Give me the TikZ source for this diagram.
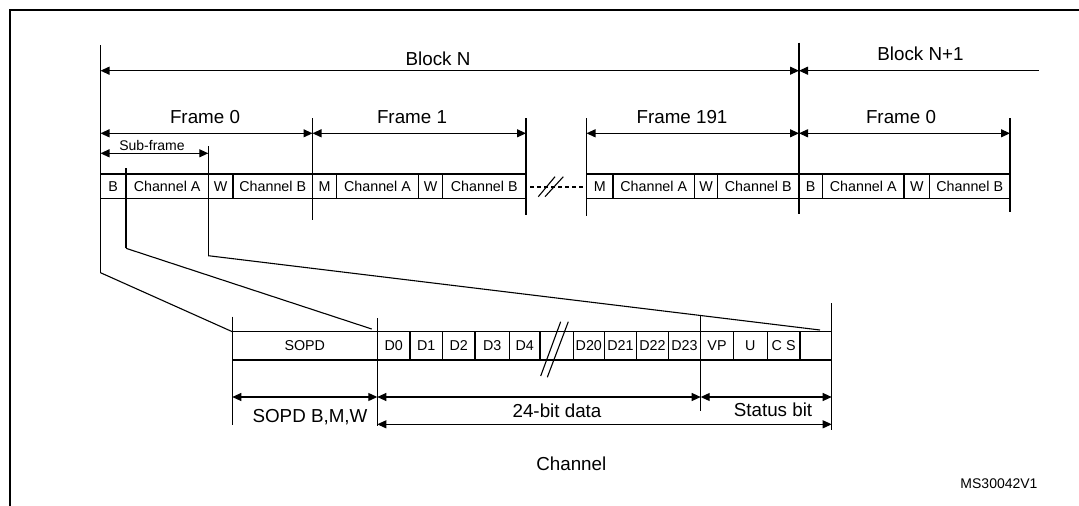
\documentclass[tikz,border=0pt]{standalone}
\usepackage{fontspec}
\setmainfont{Liberation Sans}
\usetikzlibrary{arrows.meta}
\tikzset{
  ln/.style={line width=1.1pt},
  border/.style={line width=2pt},
  dimarrow/.style={line width=1.1pt,{Triangle[length=9pt,width=8pt]}-{Triangle[length=9pt,width=8pt]}},
  leftarrow/.style={line width=1.1pt,{Triangle[length=9pt,width=8pt]}-},
  cellup/.style={draw,line width=1.1pt,inner sep=0pt,outer sep=0pt,minimum height=24.5pt,font=\fontsize{14.3}{16}\selectfont},
  celllow/.style={draw,line width=1.1pt,inner sep=0pt,outer sep=0pt,minimum height=28.3pt,font=\fontsize{14.3}{16}\selectfont},
  gapcell/.style={inner sep=0pt,outer sep=0pt,minimum height=28.3pt},
  biglabel/.style={inner sep=0pt,font=\fontsize{18.8}{21}\selectfont},
  smalllabel/.style={inner sep=0pt,font=\fontsize{14}{15}\selectfont},
}
\newcommand\mycell[6]{%
  \pgfmathsetmacro\mycw{#4-#3}%
  \node[#1,minimum width=\mycw pt,anchor=north west] (#2) at (#3,#5) {#6};}
\begin{document}
\begin{tikzpicture}[x=1pt,y=-1pt]
\useasboundingbox (0,0) rectangle (1079,506);
% outer frame (top and left edges)
\coordinate (fbl) at (9.6,507);
\coordinate (ftl) at (9.6,10);
\coordinate (ftr) at (1080,10);
\draw[border] (fbl) -- (ftl) -- (ftr);

% ---------- upper row of cells ----------
\mycell{cellup}{fAB}{100.5}{126}{174}{B}
\mycell{cellup}{fAA}{126}{208.3}{174}{Channel A}
\mycell{cellup}{fAW}{208.3}{233}{174}{W}
\mycell{cellup}{fAC}{233}{312.5}{174}{Channel B}
\mycell{cellup}{fBM}{312.5}{336.5}{174}{M}
\mycell{cellup}{fBA}{336.5}{418.5}{174}{Channel A}
\mycell{cellup}{fBW}{418.5}{442.5}{174}{W}
\mycell{cellup}{fBC}{442.5}{526}{174}{Channel B}
\mycell{cellup}{fNM}{586.5}{613}{174}{M}
\mycell{cellup}{fNA}{613}{694.5}{174}{Channel A}
\mycell{cellup}{fNW}{694.5}{717.5}{174}{W}
\mycell{cellup}{fNC}{717.5}{799}{174}{Channel B}
\mycell{cellup}{gAB}{799}{822.5}{174}{B}
\mycell{cellup}{gAA}{822.5}{904}{174}{Channel A}
\mycell{cellup}{gAW}{904}{929.5}{174}{W}
\mycell{cellup}{gAC}{929.5}{1010}{174}{Channel B}

% dashed break between frame 1 and frame 191
\coordinate (dshA) at (530,187);
\coordinate (dshB) at (586.5,187);
\draw[ln,dash pattern=on 4pt off 3pt] (dshA) -- (dshB);
\coordinate (slA1) at (538.3,196.7); \coordinate (slA2) at (555,176.7);
\coordinate (slB1) at (545,196.7);   \coordinate (slB2) at (563.3,176.7);
\draw[ln] (slA1) -- (slA2);
\draw[ln] (slB1) -- (slB2);

% ---------- vertical boundary lines (upper) ----------
\coordinate (vA1) at (100.5,45);   \coordinate (vA2) at (100.5,272.7);
\coordinate (vB1) at (126,168);    \coordinate (vB2) at (126,248.3);
\coordinate (vC1) at (208.3,146);  \coordinate (vC2) at (208.3,255.7);
\coordinate (vD1) at (312.5,118);  \coordinate (vD2) at (312.5,220);
\coordinate (vE1) at (526,118);    \coordinate (vE2) at (526,215);
\coordinate (vF1) at (586.5,118);  \coordinate (vF2) at (586.5,216);
\coordinate (vG1) at (799,42.7);   \coordinate (vG2) at (799,214);
\coordinate (vH1) at (1010,118);   \coordinate (vH2) at (1010,212);
\foreach \v in {A,B,C,D,E,F,G,H} \draw[ln] (v\v1) -- (v\v2);

% ---------- dimension arrows (upper) ----------
\coordinate (bnL) at (100.5,70.7);  \coordinate (bnR) at (799,70.7);
\coordinate (bn1L) at (799,70.7);   \coordinate (bn1R) at (1039,70.7);
\draw[dimarrow] (bnL) -- (bnR);
\draw[leftarrow] (bn1L) -- (bn1R);
\node[biglabel] (tBlockN) at (438,59) {Block N};
\node[biglabel] (tBlockN1) at (920.5,53.3) {Block N+1};

\coordinate (frA1) at (100.5,133.3); \coordinate (frA2) at (312.5,133.3);
\coordinate (frB1) at (312.5,133.3); \coordinate (frB2) at (526,133.3);
\coordinate (frN1) at (586.5,133.3); \coordinate (frN2) at (799,133.3);
\coordinate (frG1) at (799,133.3);   \coordinate (frG2) at (1010,133.3);
\draw[dimarrow] (frA1) -- (frA2);
\draw[dimarrow] (frB1) -- (frB2);
\draw[dimarrow] (frN1) -- (frN2);
\draw[dimarrow] (frG1) -- (frG2);
\node[biglabel] (tFrA) at (205,116.7) {Frame 0};
\node[biglabel] (tFrB) at (412,116.7) {Frame 1};
\node[biglabel] (tFrN) at (682,116.7) {Frame 191};
\node[biglabel] (tFrG) at (901,116.7) {Frame 0};

\coordinate (sfL) at (100.5,153.3); \coordinate (sfR) at (208.3,153.3);
\draw[dimarrow] (sfL) -- (sfR);
\node[smalllabel] (tSub) at (152,145) {Sub-frame};

% ---------- lower row of cells ----------
\mycell{celllow}{sopd}{232.3}{377.3}{331.7}{SOPD}
\mycell{celllow}{dA}{377.3}{410}{331.7}{D0}
\mycell{celllow}{dB}{410}{442.3}{331.7}{D1}
\mycell{celllow}{dC}{442.3}{475}{331.7}{D2}
\mycell{celllow}{dD}{475}{509.3}{331.7}{D3}
\mycell{celllow}{dE}{509.3}{540}{331.7}{D4}
\mycell{gapcell}{dgap}{540}{573.3}{331.7}{}
\mycell{celllow}{dT}{573.3}{604.3}{331.7}{D20}
\mycell{celllow}{dU}{604.3}{636.7}{331.7}{D21}
\mycell{celllow}{dV}{636.7}{668.3}{331.7}{D22}
\mycell{celllow}{dW}{668.3}{700.7}{331.7}{D23}
\mycell{celllow}{vp}{700.7}{733.3}{331.7}{VP}
\mycell{celllow}{uu}{733.3}{767.3}{331.7}{U}
\mycell{celllow}{cs}{767.3}{800}{331.7}{C S}
\mycell{celllow}{lastc}{800}{831.7}{331.7}{}
\draw[ln] (dgap.north west) -- (dgap.north east);
\draw[ln] (dgap.south west) -- (dgap.south east);
\coordinate (lsA1) at (540.7,376);   \coordinate (lsA2) at (560.7,321.7);
\coordinate (lsB1) at (547.3,377.3); \coordinate (lsB2) at (568.3,321.7);
\draw[ln] (lsA1) -- (lsA2);
\draw[ln] (lsB1) -- (lsB2);

% ---------- vertical lines (lower) ----------
\coordinate (wA1) at (232.3,316.7); \coordinate (wA2) at (232.3,425.3);
\coordinate (wB1) at (377.3,318.3); \coordinate (wB2) at (377.3,426);
\coordinate (wC1) at (700.7,315);   \coordinate (wC2) at (700.7,411);
\coordinate (wD1) at (831.7,303.3); \coordinate (wD2) at (831.7,430);
\foreach \w in {A,B,C,D} \draw[ln] (w\w1) -- (w\w2);

% ---------- expansion lines ----------
\coordinate (xB) at (371.7,329);
\coordinate (xC) at (820,330);
\draw[ln] (vA2) -- (sopd.north west);
\draw[ln] (vB2) -- (xB);
\draw[ln] (vC2) -- (xC);

% ---------- dimension arrows (lower) ----------
\coordinate (lA1) at (232.3,397); \coordinate (lA2) at (377.3,397);
\coordinate (lB1) at (377.3,397); \coordinate (lB2) at (700.7,397);
\coordinate (lC1) at (700.7,397); \coordinate (lC2) at (831.7,397);
\coordinate (lD1) at (377.3,424.3); \coordinate (lD2) at (831.7,424.3);
\draw[dimarrow] (lA1) -- (lA2);
\draw[dimarrow] (lB1) -- (lB2);
\draw[dimarrow] (lC1) -- (lC2);
\draw[dimarrow] (lD1) -- (lD2);
\node[biglabel] (tSopd) at (310,416.7) {SOPD B,M,W};
\node[biglabel] (tData) at (557,411) {24-bit data};
\node[biglabel] (tStat) at (773,410) {Status bit};
\node[biglabel] (tChan) at (571.3,463.7) {Channel};
\node[smalllabel] (tRef) at (999,484) {MS30042V1};
\end{tikzpicture}
\end{document}
